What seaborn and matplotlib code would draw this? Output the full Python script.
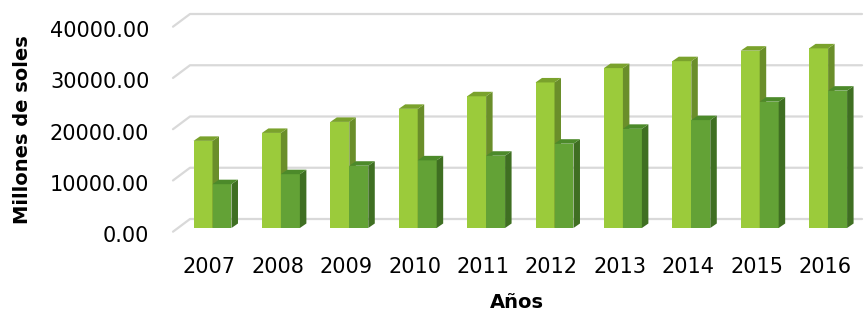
import matplotlib
matplotlib.use("Agg")
import matplotlib.pyplot as plt
from matplotlib.transforms import IdentityTransform
from matplotlib.patches import Polygon
from matplotlib.lines import Line2D
from matplotlib.transforms import ScaledTranslation
import seaborn as sns
import pandas as pd

years = ["2007", "2008", "2009", "2010", "2011", "2012", "2013", "2014", "2015", "2016"]
serie_a = [17000, 18550, 20700, 23250, 25700, 28400, 31200, 32550, 34600, 35050]
serie_b = [8550, 10500, 12150, 13200, 14100, 16450, 19350, 21050, 24650, 26800]
series_names = ["Serie 1", "Serie 2"]
yticks = [0, 10000, 20000, 30000, 40000]

front_cols = ["#9BCB3B", "#63A236"]
side_cols = ["#6A8E2A", "#3F6F22"]
top_cols = ["#7AA22C", "#4C8A2A"]

df = pd.DataFrame({
    "year": years * 2,
    "value": serie_a + serie_b,
    "serie": [series_names[0]] * len(years) + [series_names[1]] * len(years),
})

sns.set_style("white")
plt.rcParams["font.family"] = ["DejaVu Sans"]

W, H = 866, 318
fig = plt.figure(figsize=(W / 100, H / 100), dpi=100)
ax_left, ax_right = 175, 852
ax_bottom_px, ax_top_px = 228, 23
ax = fig.add_axes([ax_left / W, (H - ax_bottom_px) / H, (ax_right - ax_left) / W,
                   (ax_bottom_px - ax_top_px) / H])
ax.patch.set_visible(False)

sns.barplot(data=df, x="year", y="value", hue="serie", palette=front_cols,
            saturation=1, width=0.555, gap=0, dodge=True, ax=ax, legend=False,
            linewidth=0, edgecolor="none")

spacing = 68.4
x0 = -(212.5 - ax_left) / spacing
ax.set_xlim(x0, x0 + (ax_right - ax_left) / spacing)
ax.set_ylim(0, 40000)
ax.set_autoscale_on(False)
for s in ax.spines.values():
    s.set_visible(False)

# 3D faces
dx, dy = 6.5, 4.5
n = len(years)
for i, p in enumerate(ax.patches):
    k = i // n
    p.set_zorder(2 + k * 0.2)
    x, y = p.get_x(), p.get_y()
    w, h = p.get_width(), p.get_height()
    (xl, yb), (xr, yt) = ax.transData.transform([(x, y), (x + w, y + h)])
    side = Polygon([(xr, yb), (xr + dx, yb + dy), (xr + dx, yt + dy), (xr, yt)],
                   closed=True, facecolor=side_cols[k], edgecolor="none",
                   transform=IdentityTransform(), clip_on=False, zorder=2.1 + k * 0.2)
    top = Polygon([(xl, yt), (xr, yt), (xr + dx, yt + dy), (xl + dx, yt + dy)],
                  closed=True, facecolor=top_cols[k], edgecolor="none",
                  transform=IdentityTransform(), clip_on=False, zorder=2.1 + k * 0.2)
    ax.add_artist(side)
    ax.add_artist(top)

# back wall grid lines
grid_col = "#D9D9D9"
for v in yticks:
    yd = ax.transData.transform((0, v))[1]
    back_y = yd + 9
    front_y = yd - 3.7
    fig.add_artist(Line2D([173, 190, 862], [front_y, back_y, back_y], color=grid_col,
                          lw=1.6, transform=IdentityTransform(), zorder=-1))

ax.set_yticks(yticks)
ax.set_yticklabels([f"{v:.2f}" for v in yticks])
ax.tick_params(axis="y", length=0, pad=18.5, labelsize=15, labelcolor="#000000")
ax.tick_params(axis="x", length=0, pad=21, labelsize=15, labelcolor="#000000")
for lab in ax.get_yticklabels():
    lab.set_transform(lab.get_transform() + ScaledTranslation(0, -6 / 100, fig.dpi_scale_trans))
for lab in ax.get_xticklabels():
    lab.set_transform(lab.get_transform() + ScaledTranslation(-3 / 100, 0, fig.dpi_scale_trans))

ax.set_xlabel("")
ax.set_ylabel("")
fig.text(23 / W, (H - 130) / H, "Millones de soles", rotation=90, ha="center", va="center",
         fontsize=14, fontweight="bold", color="#000000")
fig.text(517 / W, (H - 302) / H, "Años", ha="center", va="center",
         fontsize=14, fontweight="bold", color="#000000")

fig.savefig("out.png", dpi=100)
